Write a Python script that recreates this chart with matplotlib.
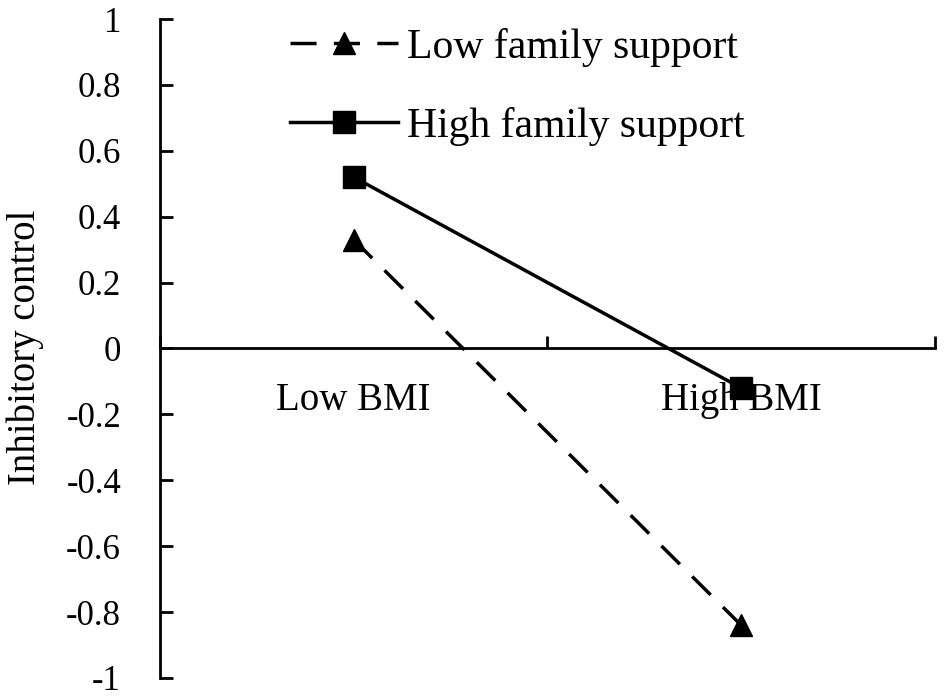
import matplotlib
matplotlib.use("Agg")
import matplotlib.pyplot as plt
from matplotlib.ticker import FixedLocator

categories = ["Low BMI", "High BMI"]
low_support = [0.33, -0.84]
high_support = [0.52, -0.12]
series_names = ["Low family support", "High family support"]
ytick_vals = [1, 0.8, 0.6, 0.4, 0.2, 0, -0.2, -0.4, -0.6, -0.8, -1]
ytick_labels = ["1", "0.8", "0.6", "0.4", "0.2", "0", "-0.2", "-0.4", "-0.6", "-0.8", "-1"]

plt.rcParams['font.family'] = ['Liberation Serif', 'DejaVu Serif']
plt.rcParams['axes.unicode_minus'] = False

fig = plt.figure(figsize=(9.45, 6.98), dpi=100)
ax = fig.add_axes([160/945, 1-678/698, (935-160)/945, (678-19)/698])

x = list(range(len(categories)))
l1, = ax.plot(x, low_support, color='black', lw=2.5, ls=(0, (7.5, 5.0)),
              marker='^', markersize=16, label=series_names[0])
l2, = ax.plot(x, high_support, color='black', lw=2.5, ls='-',
              marker='s', markersize=16, label=series_names[1])

ax.set_xlim(-0.5, 1.5)
ax.set_ylim(-1, 1)
ax.set_yticks(ytick_vals)
ax.set_yticklabels(ytick_labels)
ax.set_xticks(x)
ax.set_xticklabels(categories)
ax.xaxis.set_minor_locator(FixedLocator([-0.5, 0.5, 1.5]))

for s in ['top', 'right']:
    ax.spines[s].set_visible(False)
ax.spines['bottom'].set_position(('data', 0))
ax.spines['bottom'].set_linewidth(2)
ax.spines['left'].set_linewidth(2)

ax.tick_params(axis='y', direction='in', length=9.5, width=2, pad=28, labelsize=25)
ax.tick_params(axis='x', which='major', length=0, pad=24, labelsize=28)
ax.tick_params(axis='x', which='minor', direction='in', length=9, width=2)

fig.text(25/945, 1-347/698, "Inhibitory control", rotation=90, fontsize=28,
         ha='center', va='center')

leg = ax.legend(handles=[l1, l2], loc='upper left', bbox_to_anchor=(290/945, 1-28/698),
                bbox_transform=fig.transFigure, frameon=False, fontsize=30,
                handlelength=2.6, handletextpad=0.2, labelspacing=0.95,
                borderpad=0, borderaxespad=0)

fig.savefig("out.png", dpi=100)
